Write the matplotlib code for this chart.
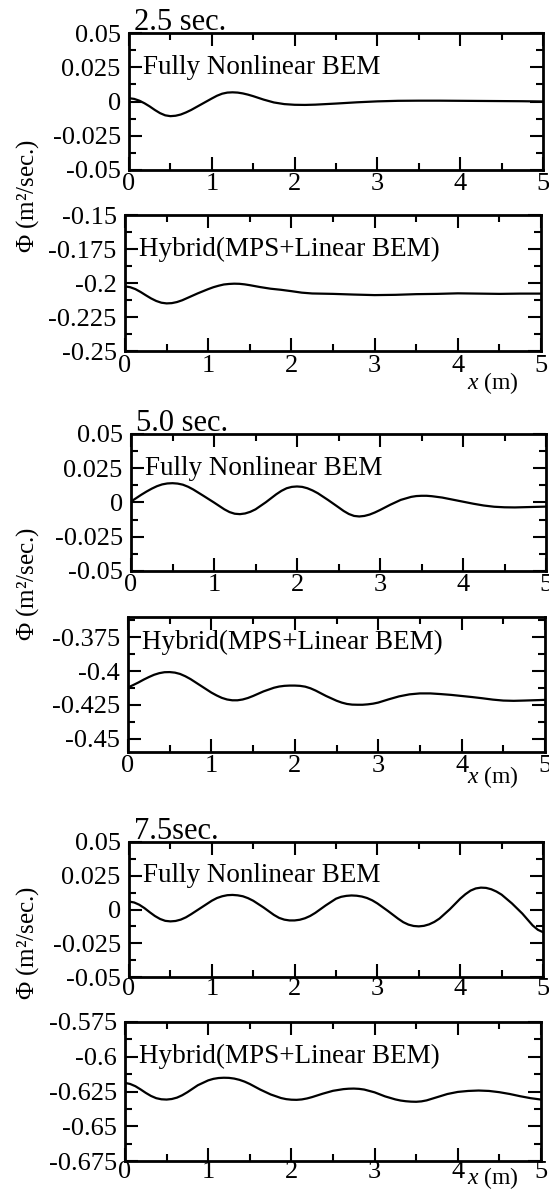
import matplotlib
matplotlib.use("Agg")
import matplotlib.pyplot as plt
from matplotlib.ticker import FixedLocator, MultipleLocator, FuncFormatter

plt.rcParams['font.family'] = ['Liberation Serif', 'DejaVu Serif']
plt.rcParams['mathtext.fontset'] = 'custom'
plt.rcParams['mathtext.rm'] = 'Liberation Serif'
plt.rcParams['mathtext.it'] = 'Liberation Serif:italic'
plt.rcParams['axes.unicode_minus'] = False

# ---------------- data (x in m, Phi in m^2/sec) ----------------
fnl_25 = [(0, 0.0024), (0.0625, 0.0019), (0.125, 0.0006), (0.1875, -0.0013), (0.25, -0.0036),
          (0.3125, -0.0062), (0.375, -0.0085), (0.4375, -0.0101), (0.5, -0.0107),
          (0.5625, -0.0104), (0.625, -0.0095), (0.6875, -0.0080), (0.75, -0.0062),
          (0.875, -0.0020), (1.0, 0.0022), (1.0625, 0.0042), (1.125, 0.0057), (1.1875, 0.0065),
          (1.25, 0.0067), (1.3125, 0.0065), (1.375, 0.0059), (1.4375, 0.0050), (1.5, 0.0039),
          (1.625, 0.0014), (1.75, -0.0007), (1.875, -0.0019), (2.0, -0.0024), (2.125, -0.0025),
          (2.25, -0.0023), (2.5, -0.0015), (2.75, -0.0006), (3.0, 0.0001), (3.25, 0.0005),
          (3.5, 0.0006), (3.75, 0.0006), (4.0, 0.0005), (4.25, 0.0004), (4.5, 0.0003),
          (4.75, 0.0002), (5.0, 0.0)]
hyb_25 = [(0, -0.2025), (0.0625, -0.2031), (0.125, -0.2045), (0.1875, -0.2066), (0.25, -0.2090),
          (0.3125, -0.2113), (0.375, -0.2132), (0.4375, -0.2145), (0.5, -0.2150),
          (0.5625, -0.2148), (0.625, -0.2140), (0.6875, -0.2127), (0.75, -0.2110),
          (0.875, -0.2076), (1.0, -0.2045), (1.0625, -0.2031), (1.125, -0.2020),
          (1.1875, -0.2011), (1.25, -0.2007), (1.3125, -0.2005), (1.375, -0.2006),
          (1.4375, -0.2010), (1.5, -0.2016), (1.625, -0.2030), (1.75, -0.2042),
          (1.875, -0.2050), (2.0, -0.2060), (2.125, -0.2071), (2.25, -0.2077), (2.5, -0.2080),
          (2.75, -0.2085), (3.0, -0.2089), (3.25, -0.2087), (3.5, -0.2082), (3.75, -0.2080),
          (4.0, -0.2076), (4.25, -0.2078), (4.5, -0.2080), (4.75, -0.2078), (5.0, -0.2078)]
fnl_50 = [(0, 0.0007), (0.0625, 0.0032), (0.125, 0.0057), (0.1875, 0.0080), (0.25, 0.0101),
          (0.3125, 0.0119), (0.375, 0.0132), (0.4375, 0.0139), (0.5, 0.0141), (0.5625, 0.0138),
          (0.625, 0.0130), (0.6875, 0.0115), (0.75, 0.0095), (0.875, 0.0048), (1.0, 0.0000),
          (1.0625, -0.0025), (1.125, -0.0050), (1.1875, -0.0070), (1.25, -0.0082),
          (1.3125, -0.0085), (1.375, -0.0080), (1.4375, -0.0068), (1.5, -0.0050),
          (1.625, 0.0002), (1.75, 0.0060), (1.8125, 0.0085), (1.875, 0.0104), (1.9375, 0.0114),
          (2.0, 0.0117), (2.0625, 0.0114), (2.125, 0.0104), (2.1875, 0.0088), (2.25, 0.0068),
          (2.375, 0.0018), (2.5, -0.0035), (2.5625, -0.0062), (2.625, -0.0084),
          (2.6875, -0.0098), (2.75, -0.0102), (2.8125, -0.0098), (2.875, -0.0088),
          (2.9375, -0.0073), (3.0, -0.0055), (3.125, -0.0016), (3.25, 0.0019), (3.375, 0.0041),
          (3.4375, 0.0047), (3.5, 0.0049), (3.5625, 0.0049), (3.625, 0.0046), (3.75, 0.0036),
          (3.875, 0.0021), (4.0, 0.0006), (4.125, -0.0009), (4.25, -0.0022), (4.375, -0.0031),
          (4.5, -0.0035), (4.625, -0.0036), (4.75, -0.0034), (5.0, -0.0030)]
hyb_50 = [(0, -0.4122), (0.0625, -0.4104), (0.125, -0.4085), (0.1875, -0.4064), (0.25, -0.4045),
          (0.3125, -0.4028), (0.375, -0.4016), (0.4375, -0.4009), (0.5, -0.4008),
          (0.5625, -0.4012), (0.625, -0.4022), (0.6875, -0.4039), (0.75, -0.4060),
          (0.875, -0.4110), (1.0, -0.4160), (1.0625, -0.4181), (1.125, -0.4199),
          (1.1875, -0.4211), (1.25, -0.4217), (1.3125, -0.4217), (1.375, -0.4211),
          (1.4375, -0.4200), (1.5, -0.4185), (1.625, -0.4151), (1.75, -0.4124),
          (1.8125, -0.4115), (1.875, -0.4110), (1.9375, -0.4108), (2.0, -0.4108),
          (2.0625, -0.4110), (2.125, -0.4116), (2.1875, -0.4128), (2.25, -0.4145),
          (2.375, -0.4185), (2.5, -0.4220), (2.5625, -0.4234), (2.625, -0.4244),
          (2.6875, -0.4249), (2.75, -0.4250), (2.8125, -0.4250), (2.875, -0.4247),
          (2.9375, -0.4242), (3.0, -0.4234), (3.125, -0.4210), (3.25, -0.4188),
          (3.375, -0.4173), (3.5, -0.4166), (3.625, -0.4166), (3.75, -0.4171),
          (3.875, -0.4177), (4.0, -0.4185), (4.125, -0.4193), (4.25, -0.4202),
          (4.375, -0.4212), (4.5, -0.4219), (4.625, -0.4221), (4.75, -0.4219), (5.0, -0.4214)]
fnl_75 = [(0, 0.0059), (0.0625, 0.0052), (0.125, 0.0035), (0.1875, 0.0010), (0.25, -0.0020),
          (0.3125, -0.0048), (0.375, -0.0070), (0.4375, -0.0084), (0.5, -0.0088),
          (0.5625, -0.0085), (0.625, -0.0075), (0.6875, -0.0058), (0.75, -0.0035),
          (0.875, 0.0015), (1.0, 0.0065), (1.0625, 0.0085), (1.125, 0.0098), (1.1875, 0.0106),
          (1.25, 0.0108), (1.3125, 0.0105), (1.375, 0.0098), (1.4375, 0.0084), (1.5, 0.0065),
          (1.625, 0.0015), (1.75, -0.0040), (1.8125, -0.0062), (1.875, -0.0075),
          (1.9375, -0.0081), (2.0, -0.0081), (2.0625, -0.0076), (2.125, -0.0065),
          (2.1875, -0.0048), (2.25, -0.0025), (2.375, 0.0030), (2.5, 0.0080), (2.5625, 0.0094),
          (2.625, 0.0101), (2.6875, 0.0104), (2.75, 0.0102), (2.8125, 0.0096), (2.875, 0.0085),
          (2.9375, 0.0068), (3.0, 0.0045), (3.125, -0.0010), (3.25, -0.0068),
          (3.3125, -0.0094), (3.375, -0.0112), (3.4375, -0.0122), (3.5, -0.0125),
          (3.5625, -0.0121), (3.625, -0.0110), (3.6875, -0.0092), (3.75, -0.0067),
          (3.875, 0.0002), (4.0, 0.0080), (4.0625, 0.0113), (4.125, 0.0140), (4.1875, 0.0156),
          (4.25, 0.0162), (4.3125, 0.0160), (4.375, 0.0150), (4.4375, 0.0133), (4.5, 0.0110),
          (4.625, 0.0045), (4.75, -0.0030), (4.875, -0.0118), (4.9375, -0.0150),
          (5.0, -0.0168)]
hyb_75 = [(0, -0.6188), (0.0625, -0.6196), (0.125, -0.6212), (0.1875, -0.6235), (0.25, -0.6260),
          (0.3125, -0.6282), (0.375, -0.6298), (0.4375, -0.6306), (0.5, -0.6308),
          (0.5625, -0.6304), (0.625, -0.6294), (0.6875, -0.6277), (0.75, -0.6255),
          (0.875, -0.6205), (1.0, -0.6170), (1.0625, -0.6159), (1.125, -0.6153),
          (1.1875, -0.6151), (1.25, -0.6152), (1.3125, -0.6157), (1.375, -0.6166),
          (1.4375, -0.6179), (1.5, -0.6196), (1.625, -0.6236), (1.75, -0.6271),
          (1.875, -0.6297), (1.9375, -0.6305), (2.0, -0.6309), (2.0625, -0.6310),
          (2.125, -0.6307), (2.1875, -0.6300), (2.25, -0.6290), (2.375, -0.6266),
          (2.5, -0.6245), (2.625, -0.6233), (2.6875, -0.6230), (2.75, -0.6229),
          (2.8125, -0.6231), (2.875, -0.6236), (3.0, -0.6256), (3.125, -0.6285),
          (3.25, -0.6307), (3.3125, -0.6315), (3.375, -0.6320), (3.4375, -0.6323),
          (3.5, -0.6324), (3.5625, -0.6321), (3.625, -0.6314), (3.75, -0.6291),
          (3.875, -0.6268), (4.0, -0.6253), (4.125, -0.6246), (4.25, -0.6243),
          (4.375, -0.6246), (4.5, -0.6255), (4.625, -0.6268), (4.75, -0.6284),
          (4.875, -0.6298), (5.0, -0.6308)]

x_ticks = [0, 1, 2, 3, 4, 5]
yt_fnl = [-0.05, -0.025, 0, 0.025, 0.05]
yt_h25 = [-0.25, -0.225, -0.2, -0.175, -0.15]
yt_h50 = [-0.45, -0.425, -0.4, -0.375]
yt_h75 = [-0.675, -0.65, -0.625, -0.6, -0.575]
titles = ['2.5 sec.', '5.0 sec.', '7.5sec.']
fnl_text = 'Fully Nonlinear BEM'
hyb_text = 'Hybrid(MPS+Linear BEM)'
ylabel_text = r'$\mathit{Φ}$ (m²/sec.)'
xlabel_text = r'$\mathit{x}$ (m)'

# ---------------- layout ----------------
W, H = 549, 1197
fig = plt.figure(figsize=(W / 100, H / 100), dpi=100)


def add_ax(left, right, top, bottom):
    return fig.add_axes([left / W, 1 - bottom / H, (right - left) / W, (bottom - top) / H])


def style(ax, yticks, ylim, xpad=2):
    ax.set_xlim(0, 5)
    ax.set_ylim(*ylim)
    ax.xaxis.set_major_locator(FixedLocator(x_ticks))
    ax.xaxis.set_minor_locator(MultipleLocator(0.5))
    ax.yaxis.set_major_locator(FixedLocator(yticks))
    ax.yaxis.set_minor_locator(MultipleLocator(0.0125))
    ax.yaxis.set_major_formatter(FuncFormatter(lambda v, p: '%g' % round(v, 4)))
    ax.xaxis.set_major_formatter(FuncFormatter(lambda v, p: '%g' % v))
    ax.tick_params(which='both', direction='in', top=True, right=True, width=1.5,
                   labelsize=19, colors='black')
    ax.tick_params(which='major', length=9.5)
    ax.tick_params(which='minor', length=5)
    ax.tick_params(axis='x', pad=xpad)
    ax.tick_params(axis='y', pad=6)
    for s in ax.spines.values():
        s.set_linewidth(2.0)


panels = [
    (129, 543, 33, 170, fnl_25, yt_fnl, (-0.05, 0.05), fnl_text, 0.75, 2),
    (125, 541, 215, 351, hyb_25, yt_h25, (-0.25, -0.15), hyb_text, 0.75, 3),
    (131, 546, 434, 571, fnl_50, yt_fnl, (-0.05, 0.05), fnl_text, 0.75, 2),
    (128, 545, 617, 752, hyb_50, yt_h50, (-0.46, -0.36), hyb_text, 0.81, 2),
    (129, 543, 842, 977, fnl_75, yt_fnl, (-0.05, 0.05), fnl_text, 0.75, 1),
    (125, 541, 1022, 1161, hyb_75, yt_h75, (-0.675, -0.575), hyb_text, 0.75, 0),
]

axes = []
for (l, r, t, b, pts, yt, yl, txt, ty, xp) in panels:
    ax = add_ax(l, r, t, b)
    style(ax, yt, yl, xpad=xp)
    xs = [p[0] for p in pts]
    ys = [p[1] for p in pts]
    ax.plot(xs, ys, color='black', lw=1.6, solid_joinstyle='round', solid_capstyle='round')
    ax.text(0.033, ty, txt, transform=ax.transAxes, ha='left', va='center',
            fontsize=19.5)
    axes.append(ax)

for i, ttl in enumerate(titles):
    ax = axes[2 * i]
    ax.text(0.013, 1.022, ttl, transform=ax.transAxes, ha='left', va='baseline',
            fontsize=22)

# y labels
for yc in [196, 584, 943]:
    fig.text(28 / W, 1 - yc / H, ylabel_text, rotation=90, ha='center', va='center',
             fontsize=18)

# x labels
for yc in [383, 777, 1178]:
    fig.text(493 / W, 1 - yc / H, xlabel_text, ha='center', va='center', fontsize=17)

fig.savefig('out.png', dpi=100)
